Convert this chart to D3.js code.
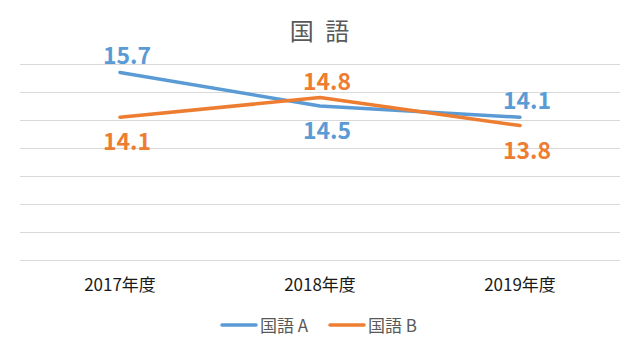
<!DOCTYPE html>
<html><head><meta charset="utf-8">
<script src="https://cdn.jsdelivr.net/npm/d3@7"></script>
<style>body{margin:0;background:#fff;} text{font-family:"Noto Sans CJK JP","Noto Sans",sans-serif;}</style>
</head><body>
<svg id="c" width="640" height="350"></svg>
<script>
const title = "国 語";
const categories = ["2017年度", "2018年度", "2019年度"];
const seriesNames = ["国語 A", "国語 B"];
const seriesA = [15.7, 14.5, 14.1];
const seriesB = [14.1, 14.8, 13.8];
const yTicks = [9, 10, 11, 12, 13, 14, 15, 16];
const colors = ["#5B9BD5", "#ED7D31"];

const svg = d3.select("#c");
const x = d3.scaleBand().domain(categories).range([20, 620]);
const y = d3.scaleLinear().domain([9, 16]).range([260, 64]);

svg.append("text").attr("x", 321).attr("y", 40).attr("text-anchor", "middle")
  .attr("font-size", 24).attr("letter-spacing", 3).attr("fill", "#595959").text(title);

const grid = svg.append("g")
  .call(d3.axisLeft(y).tickValues(yTicks).tickSize(-600).tickFormat(""))
  .attr("transform", "translate(20,0)");
grid.select(".domain").remove();
grid.selectAll(".tick line").attr("stroke", "#D9D9D9").attr("stroke-width", 1);

const xa = svg.append("g").attr("transform", "translate(0,260)")
  .call(d3.axisBottom(x).tickSize(0).tickPadding(19));
xa.select(".domain").remove();
xa.selectAll("text").attr("font-size", 17).attr("fill", "#1a1a1a")
  .style("font-family", '"Noto Sans CJK JP",sans-serif');

const series = [seriesA, seriesB];
const line = d3.line().x((d, i) => x(categories[i]) + x.bandwidth() / 2).y(d => y(d));
series.forEach((s, k) => {
  svg.append("path").datum(s).attr("d", line).attr("fill", "none")
    .attr("stroke", colors[k]).attr("stroke-width", 3.5)
    .attr("stroke-linecap", "round").attr("stroke-linejoin", "round");
});
series.forEach((s, k) => {
  const other = series[1 - k];
  s.forEach((v, i) => {
    const above = v > other[i];
    svg.append("text")
      .attr("x", x(categories[i]) + x.bandwidth() / 2 + 7)
      .attr("y", y(v) + (above ? -8 : 33))
      .attr("text-anchor", "middle").attr("font-size", 23).attr("font-weight", "bold")
      .attr("fill", colors[k]).text(v.toFixed(1));
  });
});

const legend = svg.append("g");
const lx = [222, 330];
seriesNames.forEach((n, k) => {
  legend.append("line").attr("x1", lx[k]).attr("x2", lx[k] + 34).attr("y1", 325).attr("y2", 325)
    .attr("stroke", colors[k]).attr("stroke-width", 3.5).attr("stroke-linecap", "round");
  legend.append("text").attr("x", lx[k] + 38).attr("y", 331.5).attr("font-size", 17)
    .attr("fill", "#595959").text(n);
});
</script>
</body></html>
